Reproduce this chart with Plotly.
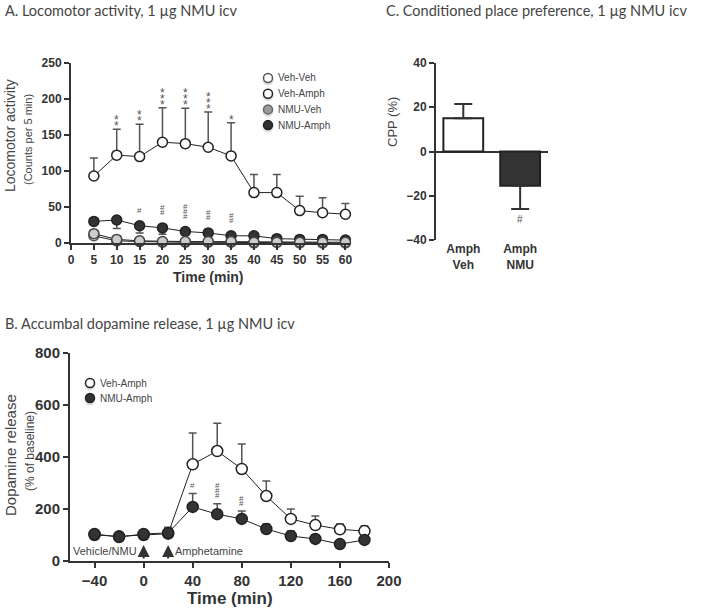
import plotly.graph_objects as go

# ---------- data ----------
# A. locomotor activity (counts per 5 min)
time_a = [5, 10, 15, 20, 25, 30, 35, 40, 45, 50, 55, 60]
veh_veh = [10, 3, 2, 1, 1, 1, 1, 0, 1, 0, 0, 0]
veh_veh_err = [5, 2, 1, 1, 1, 1, 1, 1, 1, 1, 1, 1]
veh_amph = [93, 122, 120, 140, 138, 133, 121, 70, 70, 45, 42, 40]
veh_amph_err = [25, 36, 45, 48, 49, 49, 46, 25, 25, 20, 21, 15]
nmu_veh = [13, 5, 3, 2, 2, 2, 2, 1, 1, 1, 1, 1]
nmu_veh_err = [5, 2, 1, 1, 1, 1, 1, 1, 1, 1, 1, 1]
nmu_amph = [30, 32, 24, 21, 16, 14, 10, 10, 6, 5, 5, 4]
nmu_amph_err = [3, 12, 10, 9, 5, 3, 2, 2, 1, 1, 1, 1]
stars_a = [0, 2, 2, 3, 3, 3, 1, 0, 0, 0, 0, 0]
hashes_a = [0, 0, 1, 2, 3, 2, 2, 0, 0, 0, 0, 0]

# B. accumbal dopamine release (% of baseline)
time_b = [-40, -20, 0, 20, 40, 60, 80, 100, 120, 140, 160, 180]
veh_amph_b = [100, 95, 100, 105, 372, 423, 354, 250, 162, 138, 122, 115]
veh_amph_b_err = [8, 5, 5, 25, 120, 107, 96, 58, 38, 35, 20, 20]
nmu_amph_b = [104, 92, 104, 108, 208, 180, 162, 123, 96, 85, 65, 81]
nmu_amph_b_err = [5, 5, 5, 20, 52, 40, 30, 19, 19, 15, 5, 15]
hashes_b = [0, 0, 0, 0, 1, 3, 2, 0, 0, 0, 0, 0]
injections = [0, 20]
injection_labels = ['Vehicle/NMU', 'Amphetamine']

# C. conditioned place preference
cpp_groups = ['Amph<br>Veh', 'Amph<br>NMU']
cpp = [15, -15.5]
cpp_err_up = [6.5, 0]
cpp_err_down = [0, 10.5]

# ---------- style ----------
W, H = 702, 610
axis_col = '#333333'
text_col = '#444444'
tick_font = dict(family='Liberation Sans', size=12, color=axis_col, weight='bold')
title_font = dict(family='Lato', size=14.5, color=text_col)


def px(x):
    return x / W


def py(y):
    return 1 - y / H


fig = go.Figure()


def add_series(x, y, err, fill, edge, xa, ya, down=False, size=10):
    fig.add_trace(go.Scatter(
        x=x, y=y, mode='lines+markers', xaxis=xa, yaxis=ya, showlegend=False,
        line=dict(color='#222222', width=1),
        marker=dict(size=size, color=fill, line=dict(color=edge, width=1.5)),
        error_y=dict(type='data', symmetric=False,
                     array=[0] * len(err) if down else err,
                     arrayminus=err if down else [0] * len(err),
                     color='#555555', thickness=1.5, width=4),
        cliponaxis=False,
    ))


# panel A
add_series(time_a, veh_amph, veh_amph_err, 'white', '#222222', 'x', 'y')
add_series(time_a, nmu_amph, nmu_amph_err, '#333333', '#222222', 'x', 'y', down=True)
add_series(time_a, veh_veh, veh_veh_err, '#eeeeee', '#555555', 'x', 'y')
add_series(time_a, nmu_veh, nmu_veh_err, '#cccccc', '#444444', 'x', 'y')

# panel B
add_series(time_b, veh_amph_b, veh_amph_b_err, 'white', '#222222', 'x2', 'y2', size=11)
add_series(time_b, nmu_amph_b, nmu_amph_b_err, '#333333', '#222222', 'x2', 'y2', size=11)

# panel C
fig.add_trace(go.Bar(
    x=cpp_groups, y=cpp, xaxis='x3', yaxis='y3', width=0.7, showlegend=False,
    marker=dict(color=['white', '#333333'], line=dict(color='#222222', width=2)),
    error_y=dict(type='data', symmetric=False, array=cpp_err_up, arrayminus=cpp_err_down,
                 color='#333333', thickness=2, width=9),
))

ann = []


def stack(x, base, n, sym, xa, ya, shift0, step, size):
    for k in range(n):
        ann.append(dict(x=x, y=base, xref=xa, yref=ya, text=sym, showarrow=False,
                        xanchor='center', yanchor='middle', yshift=shift0 + k * step,
                        font=dict(family='Liberation Sans', size=size, color='#555555')))


for t, v, e, n in zip(time_a, veh_amph, veh_amph_err, stars_a):
    stack(t, v + e, n, '*', 'x', 'y', 3, 6, 12)
for t, v, n in zip(time_a, nmu_amph, hashes_a):
    stack(t, v, n, '#', 'x', 'y', 15, 5, 8)
for t, v, e, n in zip(time_b, nmu_amph_b, nmu_amph_b_err, hashes_b):
    stack(t, v + e, n, '#', 'x2', 'y2', 8, 5, 8)

ann.append(dict(x=1, y=cpp[1] - cpp_err_down[1], xref='x3', yref='y3', text='#', showarrow=False,
                yanchor='top', yshift=-3,
                font=dict(family='Liberation Sans', size=10, color='#555555')))

# injection arrows
for t, lab in zip(injections, injection_labels):
    ann.append(dict(x=t, y=62, xref='x2', yref='y2', ax=0, ay=15, text='', showarrow=True,
                    arrowhead=2, arrowsize=1.2, arrowwidth=2, arrowcolor='#333333'))
ann.append(dict(x=injections[0], y=38, xref='x2', yref='y2', text=injection_labels[0],
                showarrow=False, xanchor='right', xshift=-5,
                font=dict(family='Liberation Sans', size=11, color=text_col)))
ann.append(dict(x=injections[1], y=38, xref='x2', yref='y2', text=injection_labels[1],
                showarrow=False, xanchor='left', xshift=5,
                font=dict(family='Liberation Sans', size=11, color=text_col)))

# panel titles
for txt, x, y in [('A. Locomotor activity, 1 µg NMU icv', 3, 10),
                  ('B. Accumbal dopamine release, 1 µg NMU icv', 3, 323),
                  ('C. Conditioned place preference, 1 µg NMU icv', 384, 10)]:
    ann.append(dict(x=px(x), y=py(y), xref='paper', yref='paper', text=txt, showarrow=False,
                    xanchor='left', yanchor='middle', font=title_font))

# axis titles
def vtitle(txt, x, y, size):
    ann.append(dict(x=px(x), y=py(y), xref='paper', yref='paper', text=txt, showarrow=False,
                    textangle=-90, xanchor='center', yanchor='middle',
                    font=dict(family='Liberation Sans', size=size, color=text_col)))


vtitle('Locomotor activity', 10, 136, 14)
vtitle('(Counts per 5 min)', 28, 140, 11)
vtitle('Dopamine release', 10, 455, 15)
vtitle('(% of baseline)', 30, 451, 12)
vtitle('CPP (%)', 393, 122, 13)

for x, y, size in [(208, 277, 14), (230, 598, 17)]:
    ann.append(dict(x=px(x), y=py(y), xref='paper', yref='paper', text='<b>Time (min)</b>',
                    showarrow=False, xanchor='center', yanchor='middle',
                    font=dict(family='Liberation Sans', size=size, color=axis_col)))

# manual legends
shapes = []


def legend(labels, fills, edges, x, y0, step, r, size):
    for i, (lab, f, e) in enumerate(zip(labels, fills, edges)):
        yc = y0 + i * step
        shapes.append(dict(type='circle', xref='paper', yref='paper', layer='above',
                           x0=px(x - r - 1), x1=px(x + r + 1), y0=py(yc + r + 3), y1=py(yc - r + 1),
                           fillcolor='rgba(0,0,0,0.12)', line=dict(width=0)))
        shapes.append(dict(type='circle', xref='paper', yref='paper', layer='above',
                           x0=px(x - r), x1=px(x + r), y0=py(yc + r), y1=py(yc - r),
                           fillcolor=f, line=dict(color=e, width=1.5)))
        ann.append(dict(x=px(x + r + 3), y=py(yc), xref='paper', yref='paper', text=lab,
                        showarrow=False, xanchor='left', yanchor='middle',
                        font=dict(family='Liberation Sans', size=size, color=text_col)))


legend(['Veh-Veh', 'Veh-Amph', 'NMU-Veh', 'NMU-Amph'],
       ['white', 'white', '#999999', '#333333'], ['#555555', '#222222', '#666666', '#222222'],
       268, 78, 15.7, 4.5, 10)
legend(['Veh-Amph', 'NMU-Amph'], ['white', '#333333'], ['#222222', '#222222'],
       90, 383, 15, 4.5, 10)

axis_common = dict(showline=True, linecolor=axis_col, linewidth=2, ticks='outside',
                   ticklen=5, tickwidth=2, tickcolor=axis_col, showgrid=False,
                   zeroline=False, tickfont=tick_font, automargin=False)

fig.update_layout(
    width=W, height=H, margin=dict(l=0, r=0, t=0, b=0, pad=0, autoexpand=False),
    paper_bgcolor='white', plot_bgcolor='white', showlegend=False,
    xaxis=dict(domain=[px(71), px(350)], range=[0, 61], tickvals=list(range(0, 61, 5)),
               anchor='y', **axis_common),
    yaxis=dict(domain=[py(243), py(63)], range=[0, 250], tickvals=list(range(0, 251, 50)),
               anchor='x', **axis_common),
    xaxis2=dict(domain=[px(70), px(389)], range=[-60, 200], tickvals=list(range(-40, 201, 40)),
                anchor='y2', **{**axis_common, 'tickfont': {**tick_font, 'size': 15}}),
    yaxis2=dict(domain=[py(561), py(353)], range=[0, 800], tickvals=list(range(0, 801, 200)),
                anchor='x2', **{**axis_common, 'tickfont': {**tick_font, 'size': 15}}),
    xaxis3=dict(domain=[px(436), px(548)], range=[-0.48, 1.49], anchor='y3', showline=False,
                ticks='', showgrid=False, zeroline=False, tickfont=tick_font, automargin=False),
    yaxis3=dict(domain=[py(240), py(63)], range=[-40, 40], tickvals=list(range(-40, 41, 20)),
                anchor='x3', **{**axis_common, 'zeroline': True, 'zerolinecolor': axis_col,
                                'zerolinewidth': 2}),
    annotations=ann, shapes=shapes,
)

fig.write_html('out.html', config={'displayModeBar': False},
               post_script="document.body.style.margin='0';document.body.style.overflow='hidden';")
